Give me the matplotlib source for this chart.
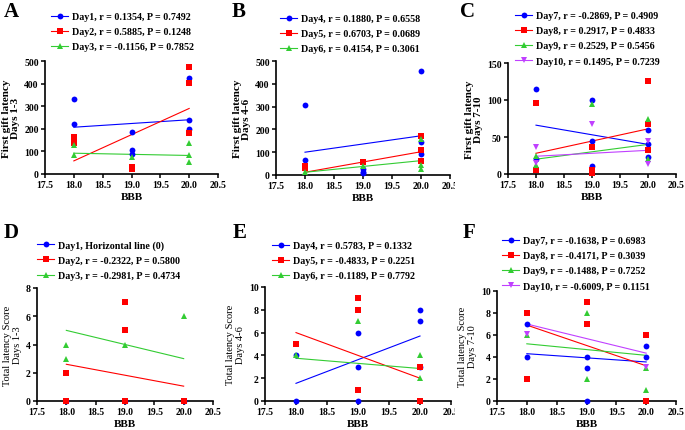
import matplotlib.pyplot as plt
from matplotlib.lines import Line2D
from matplotlib.transforms import Bbox, TransformedBbox

plt.rcParams['font.family'] = ['Liberation Serif', 'DejaVu Serif']
plt.rcParams['font.weight'] = 'bold'

# ---- data (x = BBB score) ----
fit_x = [18, 20]

# A: first gift latency, days 1-3
a1_x = [18, 18, 19, 19, 19, 20, 20, 20]
a1_y = [330, 222, 187, 108, 90, 425, 240, 200]
a1_fit = [207, 240]
a2_x = [18, 18, 19, 19, 20, 20, 20]
a2_y = [163, 135, 30, 20, 472, 403, 180]
a2_fit = [58, 290]
a3_x = [18, 18, 19, 20, 20, 20]
a3_y = [130, 82, 75, 137, 83, 52]
a3_fit = [92, 82]
a_labels = ['Day1, r = 0.1354, P = 0.7492', 'Day2, r = 0.5885, P = 0.1248',
            'Day3, r = -0.1156, P = 0.7852']

# B: first gift latency, days 4-6
b4_x = [18, 18, 19, 19, 19, 20, 20, 20]
b4_y = [308, 66, 25, 15, 10, 458, 145, 90]
b4_fit = [100, 172]
b5_x = [18, 18, 19, 20, 20, 20]
b5_y = [38, 30, 57, 173, 110, 62]
b5_fit = [12, 102]
b6_x = [18, 19, 20, 20, 20]
b6_y = [12, 40, 160, 45, 25]
b6_fit = [12, 63]
b_labels = ['Day4, r = 0.1880, P = 0.6558', 'Day5, r = 0.6703, P = 0.0689',
            'Day6, r = 0.4154, P = 0.3061']

# C: first gift latency, days 7-10
c7_x = [18, 18, 19, 19, 19, 20, 20, 20]
c7_y = [115, 20, 100, 44, 11, 60, 40, 23]
c7_fit = [66, 40]
c8_x = [18, 18, 19, 19, 19, 20, 20, 20]
c8_y = [96, 6, 37, 5, 2, 126, 68, 33]
c8_fit = [28, 61]
c9_x = [18, 18, 19, 20, 20]
c9_y = [24, 12, 95, 75, 20]
c9_fit = [20, 40]
c10_x = [18, 18, 19, 20, 20]
c10_y = [37, 15, 67, 44, 13]
c10_fit = [24, 32]
c_labels = ['Day7, r = -0.2869, P = 0.4909', 'Day8, r = 0.2917, P = 0.4833',
            'Day9, r = 0.2529, P = 0.5456', 'Day10, r = 0.1495, P = 0.7239']

# D: total latency score, days 1-3
d1_x = [18, 19, 20]
d1_y = [0, 0, 0]
d1_fit = [0, 0]
d2_x = [18, 18, 19, 19, 19, 20]
d2_y = [2, 0, 7, 5, 0, 0]
d2_fit = [2.6, 1.05]
d3_x = [18, 18, 19, 20]
d3_y = [4, 3, 4, 6]
d3_fit = [5.0, 3.0]
d_labels = ['Day1, Horizontal line (0)', 'Day2, r = -0.2322, P = 0.5800',
            'Day3, r = -0.2981, P = 0.4734']

# E: total latency score, days 4-6
e4_x = [18, 18, 19, 19, 19, 20, 20, 20]
e4_y = [4, 0, 6, 3, 0, 8, 7, 3]
e4_fit = [1.55, 5.7]
e5_x = [18, 19, 19, 19, 20, 20]
e5_y = [5, 9, 8, 1, 3, 0]
e5_fit = [6.0, 2.0]
e6_x = [18, 19, 20, 20]
e6_y = [4, 7, 4, 2]
e6_fit = [3.75, 2.85]
e_labels = ['Day4, r = 0.5783, P = 0.1332', 'Day5, r = -0.4833, P = 0.2251',
            'Day6, r = -0.1189, P = 0.7792']

# F: total latency score, days 7-10
f7_x = [18, 18, 19, 19, 19, 20, 20]
f7_y = [7, 4, 4, 3, 0, 5, 4]
f7_fit = [4.3, 3.55]
f8_x = [18, 18, 19, 19, 20, 20]
f8_y = [8, 2, 9, 7, 6, 0]
f8_fit = [6.9, 3.2]
f9_x = [18, 19, 19, 20, 20]
f9_y = [6, 8, 2, 3, 1]
f9_fit = [5.2, 4.15]
f10_x = [18, 20]
f10_y = [6.1, 3.1]
f10_fit = [7.0, 4.35]
f_labels = ['Day7, r = -0.1638, P = 0.6983', 'Day8, r = -0.4171, P = 0.3039',
            'Day9, r = -0.1488, P = 0.7252', 'Day10, r = -0.6009, P = 0.1151']

x_ticks = [17.5, 18.0, 18.5, 19.0, 19.5, 20.0, 20.5]

colors = ['#0000ff', '#ff0000', '#33cc33', '#c040ff']
markers = ['o', 's', '^', 'v']

W, H = 685, 431
fig = plt.figure(figsize=(W / 100, H / 100), dpi=100)


def px_axes(left, top, right, bottom):
    return fig.add_axes([left / W, 1 - bottom / H, (right - left) / W, (bottom - top) / H])


def panel(box, series, labels, ymax, ystep, ylabel, ylab_bold, letter, letter_xy,
          leg_xy, clip_x=None):
    ax = px_axes(*box)
    handles = []
    for i, (xs, ys, fit) in enumerate(series):
        ax.plot(fit_x, fit, color=colors[i], lw=0.8, zorder=2)
        ax.plot(xs, ys, linestyle='none', marker=markers[i], color=colors[i],
                markersize=4.2, markeredgewidth=0, clip_on=False, zorder=3)
        handles.append(Line2D([], [], color=colors[i], lw=0.8, marker=markers[i],
                              markersize=4.2, markeredgewidth=0))
    ax.set_xlim(17.5, 20.5)
    ax.set_ylim(0, ymax)
    ax.set_xticks(x_ticks)
    ax.set_xticklabels(['%.1f' % t for t in x_ticks])
    ax.set_yticks(range(0, ymax + 1, ystep))
    for s in ['top', 'right']:
        ax.spines[s].set_visible(False)
    for s in ['left', 'bottom']:
        ax.spines[s].set_linewidth(1.2)
    ax.tick_params(direction='out', length=3, width=1.1, labelsize=7, pad=1.5)
    ax.set_xlabel('BBB', fontsize=8, fontweight='bold', labelpad=2)
    ax.set_ylabel(ylabel, fontsize=8 if ylab_bold else 7.5,
                  fontweight='bold' if ylab_bold else 'normal', linespacing=1.05, labelpad=3)
    ax.legend(handles, labels, loc='upper left', bbox_to_anchor=(leg_xy[0] / W, 1 - leg_xy[1] / H),
              bbox_transform=fig.transFigure, frameon=False, fontsize=7.2,
              handlelength=1.7, handletextpad=0.4, labelspacing=0.62, borderpad=0,
              borderaxespad=0)
    fig.text(letter_xy[0] / W, 1 - letter_xy[1] / H, letter, fontsize=15, fontweight='bold',
             ha='left', va='center')
    if clip_x is not None:
        cb = TransformedBbox(Bbox.from_extents(0, 0, clip_x / W, 1), fig.transFigure)
        for lab in ax.get_xticklabels():
            lab.set_clip_on(True)
            lab.set_clip_box(cb)
    return ax


panel((45, 62, 218, 175),
      [(a1_x, a1_y, a1_fit), (a2_x, a2_y, a2_fit), (a3_x, a3_y, a3_fit)],
      a_labels, 500, 100, 'First gift latency\nDays 1-3', True, 'A', (4, 12), (51, 13))
panel((276, 62, 450, 176),
      [(b4_x, b4_y, b4_fit), (b5_x, b5_y, b5_fit), (b6_x, b6_y, b6_fit)],
      b_labels, 500, 100, 'First gift latency\nDays 4-6', True, 'B', (232, 12), (280, 15),
      clip_x=455)
panel((508, 64, 676, 175),
      [(c7_x, c7_y, c7_fit), (c8_x, c8_y, c8_fit), (c9_x, c9_y, c9_fit), (c10_x, c10_y, c10_fit)],
      c_labels, 150, 50, 'First gift latency\nDays 7-10', True, 'C', (460, 12), (515, 12))
panel((37, 289, 213, 402),
      [(d1_x, d1_y, d1_fit), (d2_x, d2_y, d2_fit), (d3_x, d3_y, d3_fit)],
      d_labels, 8, 2, 'Total latency Score\nDays 1-3', False, 'D', (4, 233), (37, 241))
panel((265, 288, 451, 402),
      [(e4_x, e4_y, e4_fit), (e5_x, e5_y, e5_fit), (e6_x, e6_y, e6_fit)],
      e_labels, 10, 2, 'Total latency Score\nDays 4-6', False, 'E', (233, 233), (272, 242),
      clip_x=455)
panel((497, 292, 676, 402),
      [(f7_x, f7_y, f7_fit), (f8_x, f8_y, f8_fit), (f9_x, f9_y, f9_fit), (f10_x, f10_y, f10_fit)],
      f_labels, 10, 2, 'Total latency Score\nDays 7-10', False, 'F', (463, 233), (502, 237))

fig.savefig('out.png', dpi=100)
